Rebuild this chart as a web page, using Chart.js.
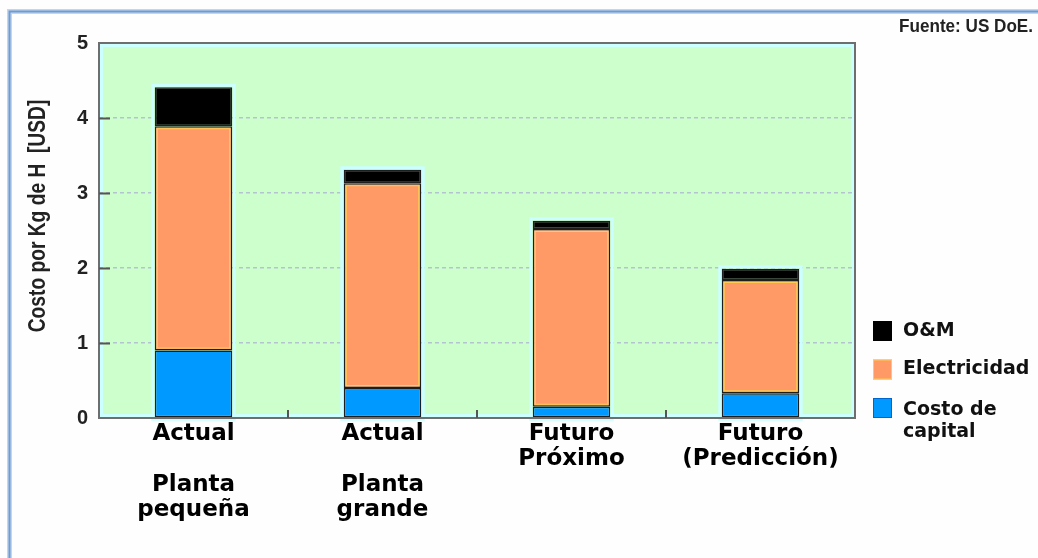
<!DOCTYPE html>
<html>
<head>
<meta charset="utf-8">
<script src="https://cdn.jsdelivr.net/npm/chart.js@4.4.1/dist/chart.umd.min.js"></script>
<style>
  html, body { margin: 0; padding: 0; background: #fefefe; overflow: hidden; }
  #wrap { position: relative; width: 1038px; height: 558px; }
</style>
</head>
<body>
<div id="wrap"><canvas id="c"></canvas></div>
<script>
// Costo por kg de hidrógeno (USD), por componente
const categories = [
  ['Actual', '', 'Planta', 'pequeña'],
  ['Actual', '', 'Planta', 'grande'],
  ['Futuro', 'Próximo'],
  ['Futuro', '(Predicción)']
];
const capitalCost = [0.90, 0.40, 0.15, 0.33];
const electricityCost = [2.99, 2.73, 2.37, 1.51];
const omCost = [0.52, 0.18, 0.11, 0.15];
const seriesLabels = ['Costo de capital', 'Electricidad', 'O&M'];
const seriesColors = ['#0099ff', '#ff9966', '#000000'];
const legendEdgeColors = ['#0066cc', '#ffcc55', '#000000'];
const yTickValues = [0, 1, 2, 3, 4, 5];
const yAxisTitle = 'Costo por Kg de H  [USD]';
const sourceNote = 'Fuente: US DoE.';

const NARROW = '"Liberation Sans Narrow", "Liberation Sans", Arial, sans-serif';
const WIDE = '"DejaVu Sans", Verdana, sans-serif';

// draws text squeezed to a condensed width
function condensedText(ctx, text, x, y, squeeze) {
  ctx.save();
  ctx.translate(x, y);
  ctx.scale(squeeze, 1);
  ctx.fillText(text, 0, 0);
  ctx.restore();
}

const decorations = {
  id: 'decorations',
  beforeDraw(chart) {
    const { ctx, chartArea: a, width, height } = chart;
    ctx.save();
    ctx.fillStyle = '#fefefe';
    ctx.fillRect(0, 0, width, height);
    // page frame (top and left)
    ctx.strokeStyle = '#c4d6ee';
    ctx.lineWidth = 5;
    ctx.beginPath();
    ctx.moveTo(9.5, height); ctx.lineTo(9.5, 11.5); ctx.lineTo(width, 11.5);
    ctx.stroke();
    ctx.strokeStyle = '#6f9bd2';
    ctx.lineWidth = 2;
    ctx.stroke();
    // plot background
    ctx.fillStyle = '#ccffcc';
    ctx.fillRect(a.left, a.top, a.width, a.height);
    ctx.strokeStyle = '#ccffff';
    ctx.lineWidth = 3;
    ctx.strokeRect(a.left + 2.5, a.top + 2.5, a.width - 5, a.height - 5);
    ctx.restore();
  },
  beforeDatasetsDraw(chart) {
    // pale halo around every stacked column
    const { ctx } = chart;
    const base = chart.getDatasetMeta(0).data;
    const top = chart.getDatasetMeta(chart.data.datasets.length - 1).data;
    ctx.save();
    ctx.strokeStyle = '#ccffff';
    ctx.lineWidth = 3;
    base.forEach((bar, i) => {
      const p = bar.getProps(['x', 'width', 'base'], true);
      const t = top[i].getProps(['y'], true);
      ctx.strokeRect(p.x - p.width / 2 - 2, t.y - 2, p.width + 4, p.base - t.y + 4);
    });
    ctx.restore();
  },
  afterDatasetsDraw(chart) {
    const { ctx, chartArea: a, scales: { x, y } } = chart;
    ctx.save();
    // thin warm edge inside the electricity segments
    ctx.strokeStyle = '#ffcc55';
    ctx.lineWidth = 1;
    chart.getDatasetMeta(1).data.forEach(bar => {
      const p = bar.getProps(['x', 'y', 'width', 'base'], true);
      ctx.strokeRect(p.x - p.width / 2 + 2.5, p.y + 2.5, p.width - 5, p.base - p.y - 5);
    });
    // plot border
    ctx.strokeStyle = '#6e6e6e';
    ctx.lineWidth = 2;
    ctx.strokeRect(a.left, a.top, a.width, a.height);
    // inward tick marks on the value axis
    ctx.strokeStyle = '#555';
    ctx.lineWidth = 2;
    ctx.beginPath();
    yTickValues.slice(1, -1).forEach(v => {
      const py = Math.round(y.getPixelForValue(v)) + 0.5;
      ctx.moveTo(a.left, py); ctx.lineTo(a.left + 11, py);
    });
    // inward tick marks between categories
    for (let i = 0; i < categories.length - 1; i++) {
      const px = Math.round((x.getPixelForValue(i) + x.getPixelForValue(i + 1)) / 2);
      ctx.moveTo(px, a.bottom); ctx.lineTo(px, a.bottom - 8);
    }
    ctx.stroke();
    ctx.restore();
  },
  afterDraw(chart) {
    const { ctx, chartArea: a, width } = chart;
    ctx.save();
    // axis title, rotated and condensed
    ctx.fillStyle = '#222';
    ctx.font = 'bold 23px ' + NARROW;
    ctx.textAlign = 'center';
    ctx.textBaseline = 'middle';
    ctx.save();
    ctx.translate(39, 216);
    ctx.rotate(-Math.PI / 2);
    condensedText(ctx, yAxisTitle, 0, 0, 0.835);
    ctx.restore();
    // source note
    ctx.font = 'bold 19px ' + NARROW;
    ctx.textAlign = 'right';
    condensedText(ctx, sourceNote, width - 5, 27, 0.9);
    // legend, top item = last dataset
    ctx.font = 'bold 19px ' + WIDE;
    ctx.textAlign = 'left';
    const boxX = a.right + 18, textX = a.right + 48;
    let boxTop = 321;
    for (let d = chart.data.datasets.length - 1; d >= 0; d--) {
      const ds = chart.data.datasets[d];
      ctx.fillStyle = seriesColors[d];
      ctx.fillRect(boxX, boxTop, 19, 20);
      ctx.strokeStyle = legendEdgeColors[d];
      ctx.lineWidth = 1;
      ctx.strokeRect(boxX + 0.5, boxTop + 0.5, 18, 19);
      // wrap long labels
      const words = ds.label.split(' ');
      const lines = [];
      let cur = '';
      words.forEach(w => {
        const t = cur ? cur + ' ' + w : w;
        if (ctx.measureText(t).width > 130 && cur) { lines.push(cur); cur = w; } else cur = t;
      });
      lines.push(cur);
      ctx.fillStyle = '#111';
      const cy = boxTop + 10 + (lines.length > 1 ? 2 : 0);
      lines.forEach((ln, k) => ctx.fillText(ln, textX, cy + k * 22));
      boxTop += 38.5;
    }
    ctx.restore();
  }
};

const datasets = [capitalCost, electricityCost, omCost].map((vals, i) => ({
  label: seriesLabels[i],
  data: vals,
  backgroundColor: seriesColors[i],
  borderColor: '#1e1e1e',
  borderWidth: 1.5,
  borderSkipped: false,
  barPercentage: 0.41,
  categoryPercentage: 1.0
}));

new Chart(document.getElementById('c'), {
  type: 'bar',
  data: { labels: categories, datasets },
  plugins: [decorations],
  options: {
    responsive: true,
    maintainAspectRatio: false,
    animation: false,
    layout: { padding: { top: 43, right: 183, bottom: 0, left: 0 } },
    plugins: {
      legend: { display: false },
      title: { display: false },
      tooltip: { enabled: false }
    },
    scales: {
      x: {
        stacked: true,
        grid: { display: false, drawTicks: false },
        border: { display: false },
        afterFit(s) { s.height = 140; },
        ticks: {
          color: '#000',
          padding: 3,
          maxRotation: 0,
          autoSkip: false,
          font: { family: WIDE, weight: 'bold', size: 23, lineHeight: '25.5px' }
        }
      },
      y: {
        stacked: true,
        min: 0,
        max: 5,
        afterFit(s) { s.width = 99; },
        afterBuildTicks(s) { s.ticks = yTickValues.map(v => ({ value: v })); },
        grid: {
          drawTicks: false,
          lineWidth: 1.5,
          color: c => (c.tick && (c.tick.value === 0 || c.tick.value === 5)) ? 'rgba(0,0,0,0)' : '#b3c3cf'
        },
        border: { display: false, dash: [4, 3] },
        ticks: {
          color: '#222',
          padding: 11,
          font: { family: NARROW, weight: 'bold', size: 20 }
        }
      }
    }
  }
});
</script>
</body>
</html>
